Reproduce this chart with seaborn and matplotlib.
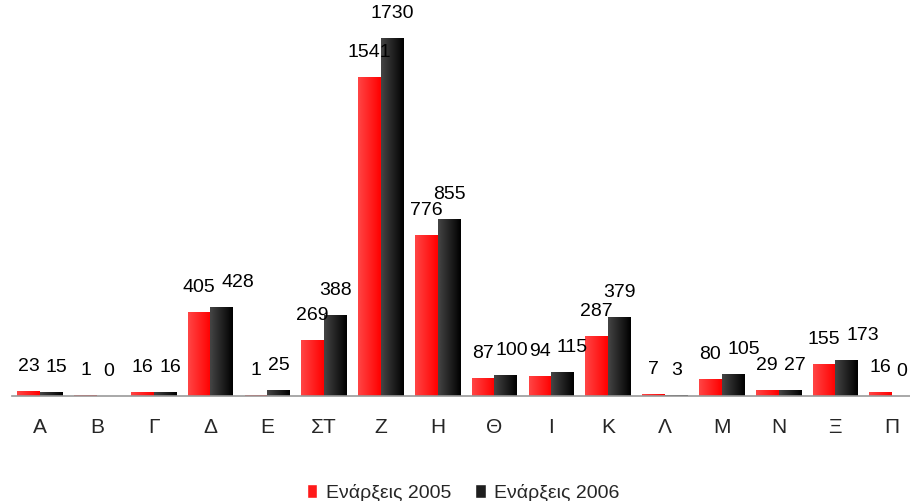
import numpy as np
import pandas as pd
import seaborn as sns
import matplotlib.pyplot as plt
from matplotlib.colors import LinearSegmentedColormap

# Data
categories = ['Α', 'Β', 'Γ', 'Δ', 'Ε', 'ΣΤ', 'Ζ', 'Η', 'Θ', 'Ι', 'Κ', 'Λ', 'Μ', 'Ν', 'Ξ', 'Π']
starts_2005 = [23, 1, 16, 405, 1, 269, 1541, 776, 87, 94, 287, 7, 80, 29, 155, 16]
starts_2006 = [15, 0, 16, 428, 25, 388, 1730, 855, 100, 115, 379, 3, 105, 27, 173, 0]
series_names = ['Ενάρξεις 2005', 'Ενάρξεις 2006']

df = pd.DataFrame({
    'Κατηγορία': categories * 2,
    'Τιμή': starts_2005 + starts_2006,
    'Σειρά': [series_names[0]] * len(categories) + [series_names[1]] * len(categories),
})

sns.set_theme(style='white')
plt.rcParams['font.family'] = ['Liberation Sans', 'DejaVu Sans']

DPI = 100
W, H = 910, 501
fig = plt.figure(figsize=(W / DPI, H / DPI), dpi=DPI)
# the plot area runs a little past the right edge of the picture (as in the original)
ax = fig.add_axes([11.7 / W, 105 / H, 908.8 / W, 376 / H])

palette = {series_names[0]: '#ff1a1a', series_names[1]: '#1e1e1e'}
sns.barplot(data=df, x='Κατηγορία', y='Τιμή', hue='Σειρά', palette=palette,
            width=0.8, gap=0, saturation=1, ax=ax, legend=True)

# horizontal gradient fill on every bar (light left -> dark right)
cmaps = {
    series_names[0]: LinearSegmentedColormap.from_list('r', ['#ff4545', '#ff0000']),
    series_names[1]: LinearSegmentedColormap.from_list('k', ['#454545', '#000000']),
}
grad = np.linspace(0, 1, 64).reshape(1, -1)
for container, name in zip(ax.containers, series_names):
    for bar in container:
        x, w, h = bar.get_x(), bar.get_width(), bar.get_height()
        if h > 0:
            ax.imshow(grad, extent=[x, x + w, 0, h], cmap=cmaps[name],
                      aspect='auto', zorder=2, interpolation='bicubic')
        bar.set_alpha(0)

ax.set_xlim(-0.5, len(categories) - 0.5)
ax.set_ylim(0, 1822)

# value labels
label_sets = []
for container, vals in zip(ax.containers, [starts_2005, starts_2006]):
    texts = []
    for bar, v in zip(container, vals):
        t = ax.annotate(str(v), (bar.get_x() + bar.get_width() / 2, bar.get_height()),
                        xytext=(0, 18), textcoords='offset points',
                        ha='center', va='center', fontsize=14, color='black',
                        annotation_clip=False)
        texts.append(t)
    label_sets.append(texts)

for s in ['top', 'right', 'left']:
    ax.spines[s].set_visible(False)
ax.spines['bottom'].set_color('#999999')
ax.spines['bottom'].set_linewidth(1.2)
ax.set_yticks([])
ax.set_xlabel('')
ax.set_ylabel('')

ax.set_xticks(range(len(categories)))
ax.set_xticklabels(categories, fontsize=15)
ax.tick_params(axis='x', which='major', length=0, pad=16)
ax.set_xticks(np.arange(-0.5, len(categories), 1), minor=True)
ax.tick_params(axis='x', which='minor', length=5, width=1, color='#555555', direction='out')

handles, labels = ax.get_legend_handles_labels()
ax.get_legend().remove()
fig.legend(handles, labels, loc='lower center', bbox_to_anchor=(0.509, -0.037), ncol=2,
           frameon=False, fontsize=14, handlelength=0.55, handleheight=0.7,
           handletextpad=0.45, columnspacing=1.2)

# push the 2006 label to the right when it would collide with the 2005 label,
# without running into the next group's label, and keep it inside the picture
fig.canvas.draw()
renderer = fig.canvas.get_renderer()
gap_px = 6
reds, blacks = label_sets
for i, (t_red, t_blk) in enumerate(zip(reds, blacks)):
    b1 = t_red.get_window_extent(renderer)
    b2 = t_blk.get_window_extent(renderer)
    shift = 0
    y_overlap = b1.y0 < b2.y1 - 3 and b2.y0 < b1.y1 - 3
    if y_overlap and b2.x0 < b1.x1 + gap_px:
        shift = b1.x1 + gap_px - b2.x0
    if i + 1 < len(reds):
        b3 = reds[i + 1].get_window_extent(renderer)
        if b3.y0 < b2.y1 - 3 and b2.y0 < b3.y1 - 3:
            shift = min(shift, b3.x0 - 1 - b2.x1)
    if b2.x1 + shift > W - 3:
        shift = W - 3 - b2.x1
    if shift:
        dx, dy = t_blk.xyann
        t_blk.xyann = (dx + shift * 72 / DPI, dy)

fig.savefig('out.png', dpi=DPI)
